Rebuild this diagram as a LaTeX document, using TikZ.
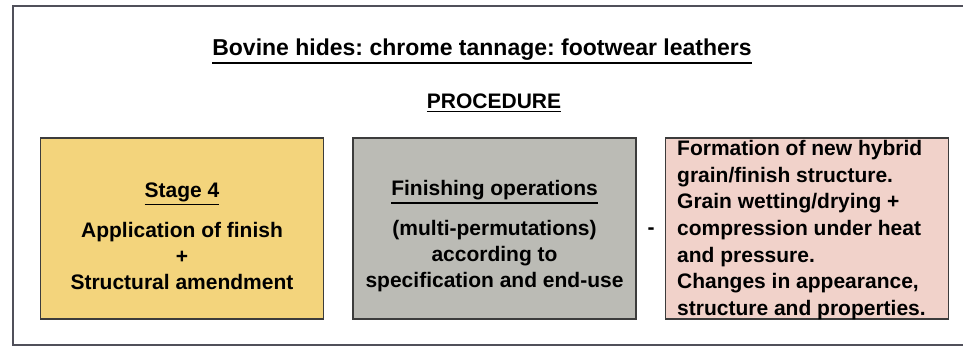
\documentclass[tikz,border=0pt]{standalone}
\usepackage{fontspec}
\setmainfont{Liberation Sans}
\frenchspacing
\newcommand\thickul[1]{\leavevmode\setbox0\hbox{#1}\vtop{\copy0\kern2.2pt\hrule height1.5pt width\wd0}}
\definecolor{boxyellow}{RGB}{243,212,124}
\definecolor{boxgray}{RGB}{187,187,181}
\definecolor{boxpink}{RGB}{241,210,202}
\definecolor{edge}{RGB}{60,60,60}
\definecolor{frameline}{RGB}{80,80,90}
\begin{document}
\begin{tikzpicture}[x=1pt,y=-1pt,
  every node/.style={font=\fontsize{21}{26}\selectfont\bfseries, text=black, inner sep=0pt},
  stagebox/.style={draw=edge, line width=1.1pt, minimum width=283pt, minimum height=181pt, align=center}]
\path[use as bounding box] (0,0) rectangle (963,350);
\clip (0,0) rectangle (963,350);
\fill[white] (0,0) rectangle (963,350);
\draw[frameline, line width=1.4pt] (13,6) rectangle (990,345);
\node[font=\fontsize{23}{28}\selectfont\bfseries] (title) at (482,51) {\thickul{Bovine hides: chrome tannage: footwear leathers}};
\node (proc) at (494,103) {\thickul{PROCEDURE}};
\node[stagebox, fill=boxyellow] (s4) at (182,228.5) {};
\node (s4t) at (182,236) [align=center] {\thickul{Stage 4}\\[14pt]Application of finish\\+\\Structural amendment};
\node[stagebox, fill=boxgray] (fin) at (494.5,228.5) {};
\node (fint) at (494.5,236) [align=center] {\thickul{Finishing operations}\\[14pt](multi-permutations)\\according to\\specification and end-use};
\node[stagebox, fill=boxpink] (form) at (807,228.5) {};
\node[anchor=west, align=left, font=\fontsize{21}{26.7}\selectfont\bfseries] (formt) at (677,230) {Formation of new hybrid\\grain/finish structure.\\Grain wetting/drying +\\compression under heat\\and pressure.\\Changes in appearance,\\structure and properties.};
\node (dash) at (651,231) {-};
\end{tikzpicture}
\end{document}
